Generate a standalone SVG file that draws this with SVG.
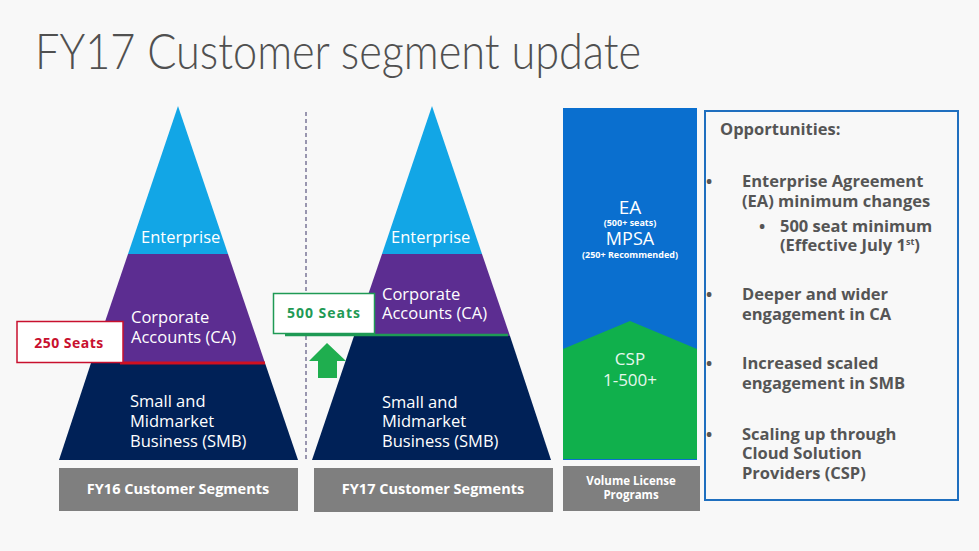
<svg xmlns="http://www.w3.org/2000/svg" width="979" height="551" viewBox="0 0 979 551">
<style>
.t{font-family:"Open Sans","Liberation Sans",sans-serif}
.w{fill:#ffffff;font-size:16.5px}
.bar{fill:#7f7f7f}
.bl{fill:#ffffff;font-size:14.5px;font-weight:bold;text-anchor:middle}
.op{fill:#555555;font-size:16.5px;font-weight:bold}
</style>
<rect width="979" height="551" fill="#f8f8f8"/>
<text x="35" y="69" font-family="Lato, 'Open Sans', sans-serif" font-size="50" fill="#505050" font-weight="300" textLength="606" lengthAdjust="spacingAndGlyphs">FY17 Customer segment update</text>

<g id="fy16">
<polygon points="178,106 228,254 128,254" fill="#12a6e6"/>
<polygon points="128,254 228,254 265,363 91,363" fill="#5c2d91"/>
<polygon points="91,363 265,363 298,460 59,460" fill="#002157"/>
<text class="t w" x="141" y="243">Enterprise</text>
<text class="t w" x="131" y="323">Corporate</text>
<text class="t w" x="131" y="343">Accounts (CA)</text>
<text class="t w" x="130" y="407">Small and</text>
<text class="t w" x="130" y="427">Midmarket</text>
<text class="t w" x="130" y="447">Business (SMB)</text>
<rect class="bar" x="59" y="468" width="239" height="43"/>
<text class="t bl" x="178" y="494">FY16 Customer Segments</text>
</g>

<g id="seats250">
<line x1="120" y1="363" x2="265" y2="363" stroke="#d01020" stroke-width="3"/>
<rect x="17" y="321.5" width="106" height="41" fill="#ffffff" stroke="#c8102e" stroke-width="1.5"/>
<text class="t" x="69" y="348" font-size="14" font-weight="bold" fill="#c8102e" text-anchor="middle" letter-spacing="0.5">250 Seats</text>
</g>

<g id="connectors">
<line x1="306" y1="112" x2="306" y2="462" stroke="#3a3466" stroke-width="1" stroke-dasharray="4,3"/>
</g>

<g id="fy17">
<polygon points="432,106 482,254 382,254" fill="#12a6e6"/>
<polygon points="382,254 482,254 510,336 354,336" fill="#5c2d91"/>
<polygon points="354,336 510,336 551,460 312,460" fill="#002157"/>
<text class="t w" x="391" y="243">Enterprise</text>
<text class="t w" x="382" y="300">Corporate</text>
<text class="t w" x="382" y="319">Accounts (CA)</text>
<text class="t w" x="382" y="408">Small and</text>
<text class="t w" x="382" y="427">Midmarket</text>
<text class="t w" x="382" y="447">Business (SMB)</text>
<rect class="bar" x="314" y="468" width="239" height="44"/>
<text class="t bl" x="433" y="494">FY17 Customer Segments</text>
</g>

<g id="seats500">
<line x1="285" y1="335" x2="508" y2="335" stroke="#1f9a55" stroke-width="2.5"/>
<rect x="273.5" y="293.5" width="101" height="40" fill="#ffffff" stroke="#1f9a55" stroke-width="1.5"/>
<text class="t" x="324" y="318" font-size="14" font-weight="bold" fill="#1f9a55" text-anchor="middle" letter-spacing="1">500 Seats</text>
<polygon points="327,343 346,361 337,361 337,378 318,378 318,361 309,361" fill="#1fae4f"/>
</g>

<g id="vl">
<rect x="563" y="108" width="134" height="352" fill="#0a6fcf"/>
<polygon points="563,349 630,321 697,349 697,459 563,459" fill="#10b04c"/>
<text class="t" x="630" y="214" font-size="19" fill="#ffffff" text-anchor="middle">EA</text>
<text class="t" x="630" y="226" font-size="9" fill="#ffffff" text-anchor="middle" font-weight="bold">(500+ seats)</text>
<text class="t" x="630" y="245" font-size="18" fill="#ffffff" text-anchor="middle">MPSA</text>
<text class="t" x="630" y="258" font-size="9" fill="#ffffff" text-anchor="middle" font-weight="bold">(250+ Recommended)</text>
<text class="t" x="630" y="365" font-size="17" fill="#e6f7ec" text-anchor="middle">CSP</text>
<text class="t" x="630" y="386" font-size="17" fill="#e6f7ec" text-anchor="middle">1-500+</text>
<rect class="bar" x="563" y="466" width="137" height="45"/>
<text class="t" x="631" y="485" font-size="11.5" font-weight="bold" fill="#ffffff" text-anchor="middle">Volume License</text>
<text class="t" x="631" y="499" font-size="11.5" font-weight="bold" fill="#ffffff" text-anchor="middle">Programs</text>
</g>

<g id="opportunities">
<rect x="705" y="111" width="253" height="389" fill="#f8f8f8" stroke="#1f6fbf" stroke-width="2"/>
<text class="t op" x="720" y="135">Opportunities:</text>
<text class="t op" x="706" y="187" font-size="12">•</text>
<text class="t op" x="742" y="187">Enterprise Agreement</text>
<text class="t op" x="742" y="207">(EA) minimum changes</text>
<text class="t op" x="759" y="232" font-size="12">•</text>
<text class="t op" x="780" y="232">500 seat minimum</text>
<text class="t op" x="780" y="251" font-size="14">(Effective July 1<tspan font-size="9" dy="-6">st</tspan><tspan dy="6">)</tspan></text>
<text class="t op" x="706" y="300" font-size="12">•</text>
<text class="t op" x="742" y="300">Deeper and wider</text>
<text class="t op" x="742" y="320">engagement in CA</text>
<text class="t op" x="706" y="369" font-size="12">•</text>
<text class="t op" x="742" y="369">Increased scaled</text>
<text class="t op" x="742" y="389">engagement in SMB</text>
<text class="t op" x="706" y="440" font-size="12">•</text>
<text class="t op" x="742" y="440">Scaling up through</text>
<text class="t op" x="742" y="459">Cloud Solution</text>
<text class="t op" x="742" y="479">Providers (CSP)</text>
</g>
</svg>
